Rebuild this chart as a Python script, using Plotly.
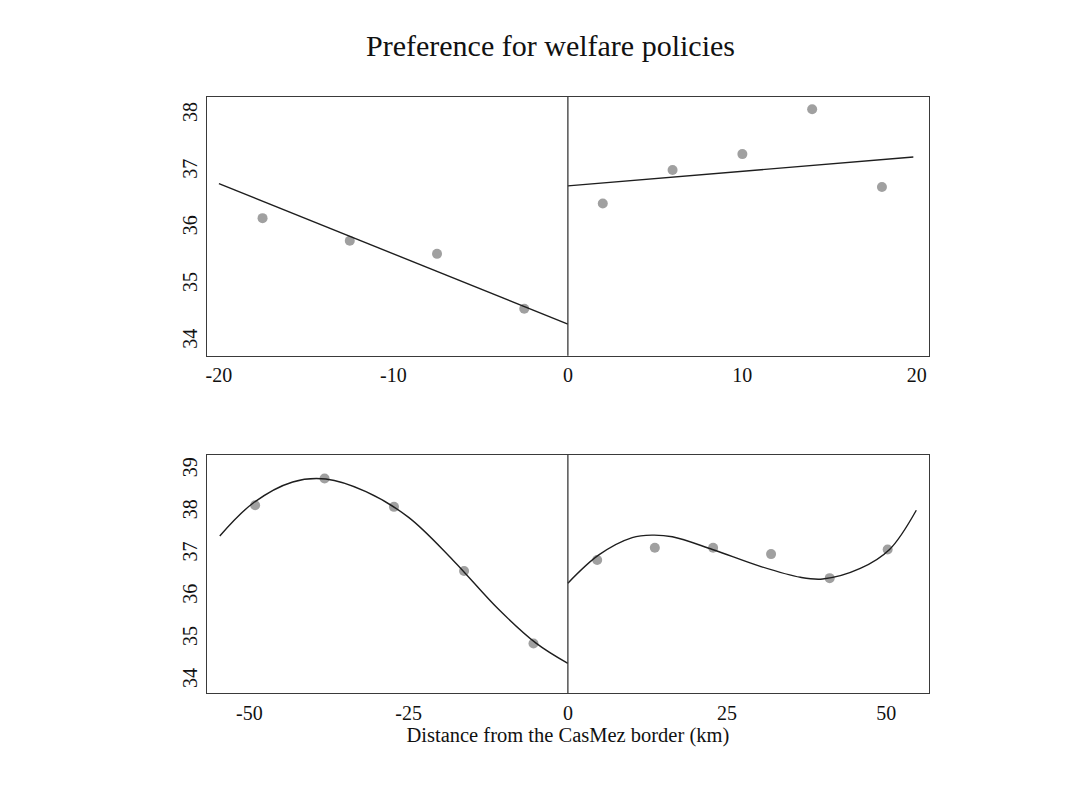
import plotly.graph_objects as go

# ---- Top panel: linear fit, +/- 20 km bandwidth ----
top_left_x = [-17.5, -12.5, -7.5, -2.5]
top_left_y = [36.18, 35.78, 35.55, 34.58]
top_right_x = [2, 6, 10, 14, 18]
top_right_y = [36.44, 37.03, 37.31, 38.10, 36.73]

top_fit_left_x = [-20, 0]
top_fit_left_y = [36.79, 34.31]
top_fit_right_x = [0, 19.8]
top_fit_right_y = [36.75, 37.26]

# ---- Bottom panel: cubic fit, full sample ----
bot_left_x = [-49.1, -38.2, -27.3, -16.3, -5.4]
bot_left_y = [38.17, 38.80, 38.13, 36.61, 34.89]
bot_right_x = [4.6, 13.65, 22.8, 31.9, 41.1, 50.2]
bot_right_y = [36.87, 37.16, 37.16, 37.01, 36.44, 37.12]

bot_fit_left_x = [-54.65, -49.5, -43.2, -38.0, -31.7, -25.0, -18.0, -11.0, -5.0, 0]
bot_fit_left_y = [37.44, 38.21, 38.72, 38.79, 38.49, 37.88, 36.86, 35.72, 34.90, 34.42]
bot_fit_right_x = [0, 4.86, 10.1, 13.2, 16.4, 22.7, 30.2, 36.5, 40.0, 45.9, 50.5, 54.7]
bot_fit_right_y = [36.32, 36.99, 37.40, 37.46, 37.42, 37.12, 36.72, 36.46, 36.42, 36.67, 37.12, 38.05]

top_xticks = [-20, -10, 0, 10, 20]
top_xtext = ["-20", "-10", "0", "10", "20"]
top_yticks = [34, 35, 36, 37, 38]
bot_xticks = [-50, -25, 0, 25, 50]
bot_xtext = ["-50", "-25", "0", "25", "50"]
bot_yticks = [34, 35, 36, 37, 38, 39]

FONT = "Liberation Serif"
DOT = "#a0a0a0"
LINE = "#1e1e1e"
FRAME = "#3a3a3a"

fig = go.Figure()


def dots(x, y, ax):
    fig.add_trace(go.Scatter(x=x, y=y, mode="markers", xaxis=ax[0], yaxis=ax[1],
                             marker=dict(size=10, color=DOT), showlegend=False,
                             hoverinfo="skip"))


def fit(x, y, ax, spline=False):
    fig.add_trace(go.Scatter(x=x, y=y, mode="lines", xaxis=ax[0], yaxis=ax[1],
                             line=dict(color=LINE, width=1.4,
                                       shape="spline" if spline else "linear",
                                       smoothing=1.0),
                             showlegend=False, hoverinfo="skip"))


dots(top_left_x, top_left_y, ("x", "y"))
dots(top_right_x, top_right_y, ("x", "y"))
fit(top_fit_left_x, top_fit_left_y, ("x", "y"))
fit(top_fit_right_x, top_fit_right_y, ("x", "y"))

dots(bot_left_x, bot_left_y, ("x2", "y2"))
dots(bot_right_x, bot_right_y, ("x2", "y2"))
fit(bot_fit_left_x, bot_fit_left_y, ("x2", "y2"), spline=True)
fit(bot_fit_right_x, bot_fit_right_y, ("x2", "y2"), spline=True)

# cutoff line at the border
for xr, yr in (("x", "y"), ("x2", "y2")):
    fig.add_shape(type="line", xref=xr, yref=f"{yr} domain", x0=0, x1=0, y0=0, y1=1,
                  line=dict(color=FRAME, width=1.3))

axis_common = dict(showgrid=False, zeroline=False, showline=True, mirror=True,
                   linecolor=FRAME, linewidth=1.4, ticks="outside", ticklen=1,
                   tickcolor="rgba(0,0,0,0)",
                   tickfont=dict(family=FONT, size=20, color="#111"))

fig.update_layout(
    width=1088, height=794,
    margin=dict(l=0, r=0, t=0, b=0),
    paper_bgcolor="white", plot_bgcolor="white",
    font=dict(family=FONT, color="#111"),
    xaxis=dict(domain=[0.19, 0.8539], range=[-20.7, 20.7], anchor="y",
               tickmode="array", tickvals=top_xticks, ticktext=top_xtext, **axis_common),
    yaxis=dict(domain=[0.552, 0.8778], range=[33.753, 38.317], anchor="x",
               tickmode="array", tickvals=top_yticks, tickangle=-90, **axis_common),
    xaxis2=dict(domain=[0.19, 0.8539], range=[-56.7, 56.7], anchor="y2",
                tickmode="array", tickvals=bot_xticks, ticktext=bot_xtext,
                title=dict(text="Distance from the CasMez border (km)",
                           font=dict(family=FONT, size=20.5, color="#111"), standoff=0),
                **axis_common),
    yaxis2=dict(domain=[0.1268, 0.4270], range=[33.71, 39.36], anchor="x2",
                tickmode="array", tickvals=bot_yticks, tickangle=-90, **axis_common),
    annotations=[dict(text="Preference for welfare policies", xref="paper", yref="paper",
                      x=0.5064, y=0.9433, xanchor="center", yanchor="middle",
                      showarrow=False, font=dict(family=FONT, size=30, color="#111"))],
)

fig.write_html("out.html")
